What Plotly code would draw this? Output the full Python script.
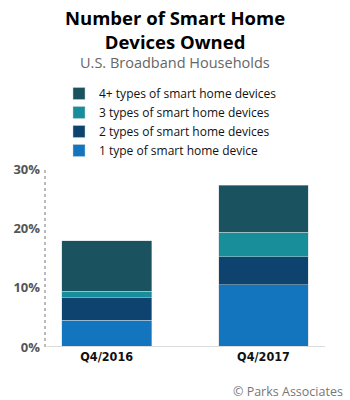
import plotly.graph_objects as go

categories = ["Q4/2016", "Q4/2017"]
series_names = [
    "1 type of smart home device",
    "2 types of smart home devices",
    "3 types of smart home devices",
    "4+ types of smart home devices",
]
one_type = [4.5, 10.5]
two_types = [3.8, 4.7]
three_types = [1.1, 4.1]
four_plus = [8.5, 8.0]
colors = ["#1375be", "#0d436e", "#178e9a", "#1b5260"]
y_ticks = [0, 10, 20, 30]
y_tick_labels = ["0%", "10%", "20%", "30%"]

fig = go.Figure()
for name, vals, col in zip(series_names, [one_type, two_types, three_types, four_plus], colors):
    fig.add_trace(go.Bar(
        x=[0, 1], y=vals, name=name, marker_color=col,
        marker_line=dict(width=0.6, color="rgba(200,210,215,0.8)"),
        width=0.573,
    ))

fig.update_layout(
    width=350, height=400,
    barmode="stack",
    paper_bgcolor="white", plot_bgcolor="white",
    margin=dict(l=45, r=25, t=169, b=53, autoexpand=False),
    font=dict(family="Open Sans", color="#222"),
    showlegend=True,
    legend=dict(
        x=0.05, xanchor="left", xref="paper",
        y=1 - 79 / 400, yanchor="top", yref="container",
        traceorder="reversed",
        font=dict(size=12, color="#111", family="Open Sans"),
        itemwidth=30, tracegroupgap=0,
        bgcolor="rgba(0,0,0,0)",
    ),
    xaxis=dict(
        range=[-0.393, 1.392],
        tickvals=[0, 1], ticktext=categories,
        showgrid=False, zeroline=False, showline=False,
        tickfont=dict(family="DejaVu Sans Condensed, Roboto, sans-serif", size=12.5, color="#111", weight="bold"),
        ticks="", ticklen=0,
    ),
    yaxis=dict(
        range=[0, 30],
        tickvals=y_ticks, ticktext=y_tick_labels,
        showgrid=False, zeroline=False, showline=False,
        tickfont=dict(family="Open Sans", size=13, color="#555", weight="bold"),
        ticks="", ticklabelstandoff=4,
    ),
    shapes=[
        dict(type="line", xref="paper", yref="y", x0=0, x1=0, y0=0, y1=30.2,
             line=dict(color="#777", width=1, dash="dot")),
        dict(type="line", xref="paper", yref="y", x0=0.006, x1=1, y0=0, y1=0,
             line=dict(color="#dcdcdc", width=2)),
    ],
    annotations=[
        dict(text="<b>Number of Smart Home<br>Devices Owned</b>", x=0.5, xref="paper",
             xshift=(175 - (45 + 140)), y=1, yref="paper", yshift=169 - 29,
             xanchor="center", yanchor="middle", showarrow=False,
             font=dict(family="Open Sans", size=18.5, color="#000")),
        dict(text="U.S. Broadband Households", x=0.5, xref="paper",
             xshift=(175 - (45 + 140)), y=1, yref="paper", yshift=169 - 62,
             xanchor="center", yanchor="middle", showarrow=False,
             font=dict(family="Open Sans", size=14.5, color="#666")),
        dict(text="© Parks Associates", x=1.0, xref="paper", xanchor="right", xshift=20,
             y=0, yref="paper", yshift=-(391 - 347), yanchor="middle", showarrow=False,
             font=dict(family="Open Sans", size=12.5, color="#777")),
    ],
)

fig.write_html("out.html")
